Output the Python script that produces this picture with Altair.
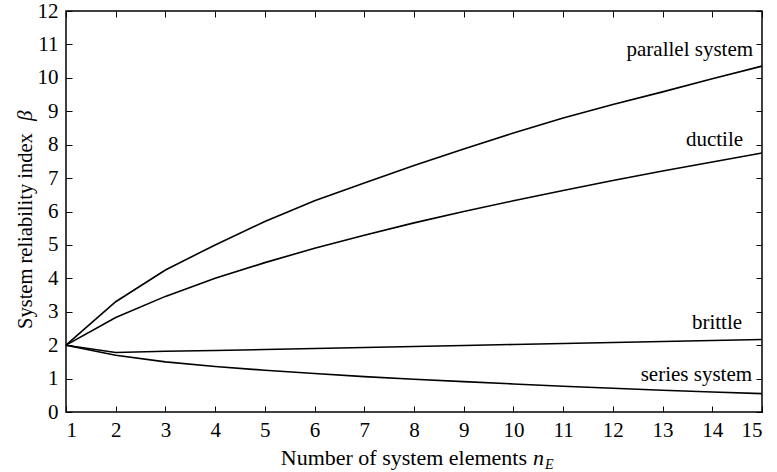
import altair as alt
import pandas as pd

n_values = list(range(1, 16))
parallel = [2.0, 3.3, 4.25, 5.0, 5.7, 6.32, 6.85, 7.38, 7.87, 8.35, 8.8, 9.2, 9.58, 9.97, 10.35]
ductile = [2.0, 2.83, 3.46, 4.0, 4.47, 4.9, 5.29, 5.66, 6.0, 6.32, 6.63, 6.93, 7.21, 7.48, 7.75]
brittle = [2.0, 1.78, 1.82, 1.84, 1.87, 1.9, 1.93, 1.96, 1.99, 2.02, 2.05, 2.08, 2.11, 2.14, 2.17]
series_sys = [2.0, 1.7, 1.5, 1.36, 1.25, 1.15, 1.06, 0.98, 0.91, 0.84, 0.77, 0.71, 0.65, 0.6, 0.55]

label_text = ["parallel system", "ductile", "brittle", "series system"]
label_x = [14.82, 14.62, 14.6, 14.8]
label_y = [10.84, 8.14, 2.66, 1.1]

x_ticks = list(range(1, 16))
y_ticks = list(range(0, 13))

rows = []
for name, vals in [("parallel", parallel), ("ductile", ductile), ("brittle", brittle), ("series", series_sys)]:
    for n, b in zip(n_values, vals):
        rows.append({"n": n, "beta": b, "series": name})
df = pd.DataFrame(rows)
labels_df = pd.DataFrame({"x": label_x, "y": label_y, "text": label_text})

W, H = 696, 401
FONT = "Liberation Serif"

xscale = alt.Scale(domain=[1, 15], nice=False)
yscale = alt.Scale(domain=[0, 12], nice=False)

base = alt.Chart(df)

lines = base.mark_line(color="black", strokeWidth=1.6).encode(
    x=alt.X("n:Q", scale=xscale,
            axis=alt.Axis(values=x_ticks, ticks=False, tickSize=0, labelPadding=7,
                          domain=False, grid=False, title=None, labelFontSize=21,
                          labelFont=FONT, labelColor="black")),
    y=alt.Y("beta:Q", scale=yscale,
            axis=alt.Axis(values=y_ticks, ticks=False, tickSize=0, labelPadding=8,
                          domain=False, grid=False, title=None, labelFontSize=21,
                          labelFont=FONT, labelColor="black")),
    detail="series:N",
)

ticks_a = base.mark_line(opacity=0).encode(
    x=alt.X("n:Q", scale=xscale,
            axis=alt.Axis(orient="top", offset=-H, values=x_ticks, labels=False, ticks=True,
                          tickSize=6, tickColor="black", tickWidth=1, domain=False, grid=False, title=None)),
    y=alt.Y("beta:Q", scale=yscale,
            axis=alt.Axis(orient="right", offset=-W, values=y_ticks, labels=False, ticks=True,
                          tickSize=6, tickColor="black", tickWidth=1, domain=False, grid=False, title=None)),
    detail="series:N",
)

ticks_b = base.mark_line(opacity=0).encode(
    x=alt.X("n:Q", scale=xscale,
            axis=alt.Axis(orient="bottom", offset=-H, values=x_ticks, labels=False, ticks=True,
                          tickSize=6, tickColor="black", tickWidth=1, domain=False, grid=False, title=None)),
    y=alt.Y("beta:Q", scale=yscale,
            axis=alt.Axis(orient="left", offset=-W, values=y_ticks, labels=False, ticks=True,
                          tickSize=6, tickColor="black", tickWidth=1, domain=False, grid=False, title=None)),
    detail="series:N",
)

labels = alt.Chart(labels_df).mark_text(align="right", baseline="middle", font=FONT,
                                        fontSize=21, color="black").encode(
    x=alt.X("x:Q", scale=xscale, axis=None),
    y=alt.Y("y:Q", scale=yscale, axis=None),
    text="text:N",
)

title_df = pd.DataFrame({"a": [0]})
tbase = alt.Chart(title_df)
xt_main = tbase.mark_text(align="right", baseline="alphabetic", font=FONT, fontSize=22,
                          color="black", text="Number of system elements").encode(
    x=alt.value(461), y=alt.value(454))
xt_n = tbase.mark_text(align="left", baseline="alphabetic", font=FONT, fontSize=22,
                       fontStyle="italic", color="black", text="n").encode(
    x=alt.value(467), y=alt.value(454))
xt_e = tbase.mark_text(align="left", baseline="alphabetic", font=FONT, fontSize=14,
                       fontStyle="italic", color="black", text="E").encode(
    x=alt.value(479), y=alt.value(458))
yt_main = tbase.mark_text(align="left", baseline="alphabetic", font=FONT, fontSize=20.5,
                          angle=270, color="black", text="System reliability index").encode(
    x=alt.value(-34), y=alt.value(318))
yt_b = tbase.mark_text(align="left", baseline="alphabetic", font=FONT, fontSize=21,
                       angle=270, fontStyle="italic", color="black", text="β").encode(
    x=alt.value(-34), y=alt.value(110))

chart = alt.layer(lines, ticks_a, ticks_b, labels, xt_main, xt_n, xt_e, yt_main, yt_b).resolve_axis(
    x="independent", y="independent"
).properties(
    width=W, height=H,
    autosize=alt.AutoSizeParams(type="none"),
    padding={"left": 66, "top": 11, "right": 15, "bottom": 60},
    background="white",
).configure_view(stroke="black", strokeWidth=1.5).configure_axis(domain=False)

chart.save("out.html", embed_options={"renderer": "svg", "actions": False})
